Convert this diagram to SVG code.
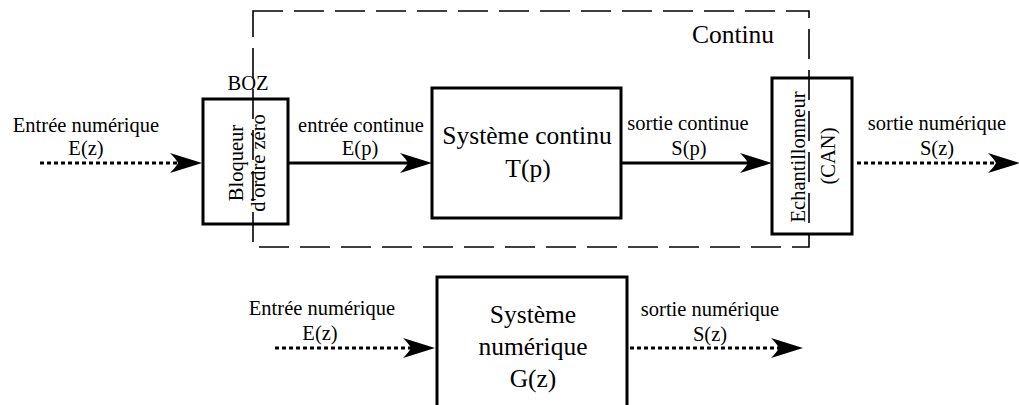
<svg xmlns="http://www.w3.org/2000/svg" width="1019" height="405" viewBox="0 0 1019 405">
<defs>
<style>
.box{fill:#fff;stroke:#000;stroke-width:3}
.solid{fill:none;stroke:#000;stroke-width:3}
.dot{fill:none;stroke:#000;stroke-width:3;stroke-dasharray:4 3}
.frame{fill:none;stroke:#000;stroke-width:1.6;stroke-dasharray:30 11}
.s{font-family:'Liberation Serif','DejaVu Serif',serif;font-size:20.5px;fill:#000;text-anchor:middle}
.l{font-family:'Liberation Serif','DejaVu Serif',serif;font-size:25.5px;fill:#000;text-anchor:middle}
</style>
<marker id="ah" viewBox="-9 -11 34 22" refX="0" refY="0" markerWidth="34" markerHeight="22" markerUnits="userSpaceOnUse" orient="auto">
<path d="M24,0 L-8,-10 Q-2,-4 0,0 Q-2,4 -8,10 Z" fill="#000"/>
</marker>
</defs>
<rect width="1019" height="405" fill="#fff"/>

<g id="connectors">
<line class="dot" x1="40" y1="163" x2="178" y2="163" marker-end="url(#ah)"/>
<line class="solid" x1="289" y1="163" x2="408" y2="163" marker-end="url(#ah)"/>
<line class="solid" x1="621" y1="163" x2="748" y2="163" marker-end="url(#ah)"/>
<line class="dot" x1="857" y1="163" x2="996" y2="163" marker-end="url(#ah)"/>
<line class="dot" x1="275" y1="348" x2="411" y2="348" marker-end="url(#ah)"/>
<line class="dot" x1="630" y1="348" x2="779" y2="348" marker-end="url(#ah)"/>
</g>

<g id="label-top">
<text class="s" x="86" y="132">Entrée numérique</text>
<text class="s" x="86" y="155">E(z)</text>
<text class="s" x="361" y="132">entrée continue</text>
<text class="s" x="360" y="155">E(p)</text>
<text class="s" x="688" y="130">sortie continue</text>
<text class="s" x="689" y="155">S(p)</text>
<text class="s" x="937" y="130">sortie numérique</text>
<text class="s" x="937" y="155">S(z)</text>
</g>

<g id="boz">
<rect class="box" x="203" y="99" width="85" height="125"/>
<text class="s" x="248" y="90">BOZ</text>
<text class="s" transform="translate(243,163) rotate(-90)">Bloqueur</text>
<text class="s" transform="translate(265,163) rotate(-90)">d'ordre zéro</text>
</g>

<g id="systeme-continu">
<rect class="box" x="432" y="88" width="189" height="130"/>
<text class="l" x="527" y="144">Système continu</text>
<text class="l" x="528" y="177">T(p)</text>
</g>

<g id="echantillonneur">
<rect class="box" x="772" y="78" width="80" height="156"/>
<text class="s" transform="translate(805,157) rotate(-90)">Echantillonneur</text>
<text class="s" transform="translate(835,156) rotate(-90)">(CAN)</text>
</g>

<g id="continu-frame">
<rect class="frame" x="253" y="11" width="556" height="236"/>
<text class="l" x="733" y="43">Continu</text>
</g>

<g id="label-bottom">
<text class="s" x="322" y="315">Entrée numérique</text>
<text class="s" x="320" y="340">E(z)</text>
<text class="s" x="710" y="316">sortie numérique</text>
<text class="s" x="710" y="341">S(z)</text>
</g>

<g id="systeme-numerique">
<rect class="box" x="437" y="277" width="190" height="140"/>
<text class="l" x="533" y="323">Système</text>
<text class="l" x="533" y="355">numérique</text>
<text class="l" x="533" y="387">G(z)</text>
</g>
</svg>
